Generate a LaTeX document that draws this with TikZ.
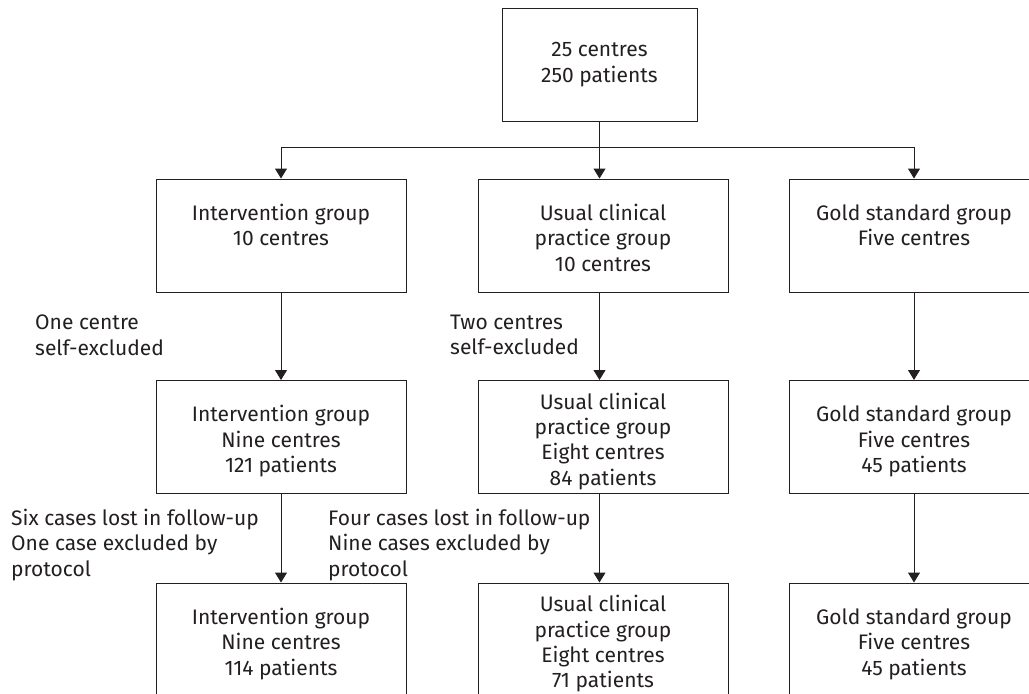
\documentclass[tikz,border=0pt]{standalone}
\usepackage{fontspec}
\setmainfont{Fira Sans}
\usetikzlibrary{arrows.meta}
\definecolor{ink}{RGB}{35,31,32}
\newcommand\grptext[1]{\rule{0pt}{28pt}#1\rule[-7.6pt]{0pt}{7.6pt}}
\tikzset{
  grp/.style={draw=ink, line width=1pt, text=ink, minimum width=250pt, minimum height=113pt, align=center, inner sep=0pt},
  lost/.style={text=ink, align=left, anchor=north west, inner sep=0pt},
  ln/.style={draw=ink, line width=1pt},
  arr/.style={ln, -{Triangle[width=12pt,length=10pt]}}
}
\begin{document}
\begin{tikzpicture}[x=1pt,y=-1pt,font=\fontsize{21}{25.3}\selectfont]
  \useasboundingbox (0,0) rectangle (1029,694);
  \node[grp, minimum width=195pt] (all) at (599.5,64.5) {25 centres\\250 patients};
  \node[grp] (int1) at (281,235.5) {\grptext{Intervention group\\10 centres\\\mbox{}}};
  \node[grp] (ucp1) at (603,235.5) {\grptext{Usual clinical\\practice group\\10 centres}};
  \node[grp] (gold1) at (914,235.5) {\grptext{Gold standard group\\Five centres\\\mbox{}}};
  \node[grp] (int2) at (281,437) {\grptext{Intervention group\\Nine centres\\121 patients}};
  \node[grp] (ucp2) at (603,437) {\grptext{Usual clinical\\practice group\\Eight centres\\84 patients}};
  \node[grp] (gold2) at (914,437) {\grptext{Gold standard group\\Five centres\\45 patients}};
  \node[grp] (int3) at (281,639.5) {\grptext{Intervention group\\Nine centres\\114 patients}};
  \node[grp] (ucp3) at (603,639.5) {\grptext{Usual clinical\\practice group\\Eight centres\\71 patients}};
  \node[grp] (gold3) at (914,639.5) {\grptext{Gold standard group\\Five centres\\45 patients}};
  \node[lost] (selfint) at (35,315) {One centre\\self-excluded};
  \node[lost] (selfucp) at (450,315) {Two centres\\self-excluded};
  \node[lost] (lossint) at (11,509) {Six cases lost in follow-up\\One case excluded by\\protocol};
  \node[lost] (lossucp) at (328,509) {Four cases lost in follow-up\\Nine cases excluded by\\protocol};
  \coordinate (bar) at (0,147.5);
  \draw[ln, line cap=rect] (int1.north |- bar) -- (gold1.north |- bar);
  \draw[arr] (all.south) -- (all.south |- ucp1.north);
  \foreach \c in {int1,gold1}
    \draw[arr] (\c.north |- bar) -- (\c.north);
  \foreach \c in {int,gold}{
    \draw[arr] (\c1.south) -- (\c2.north);
    \draw[arr] (\c2.south) -- (\c3.north);
  }
  \draw[arr] (ucp1.south -| all.south) -- (ucp2.north -| all.south);
  \draw[arr] (ucp2.south -| all.south) -- (ucp3.north -| all.south);
\end{tikzpicture}
\end{document}
